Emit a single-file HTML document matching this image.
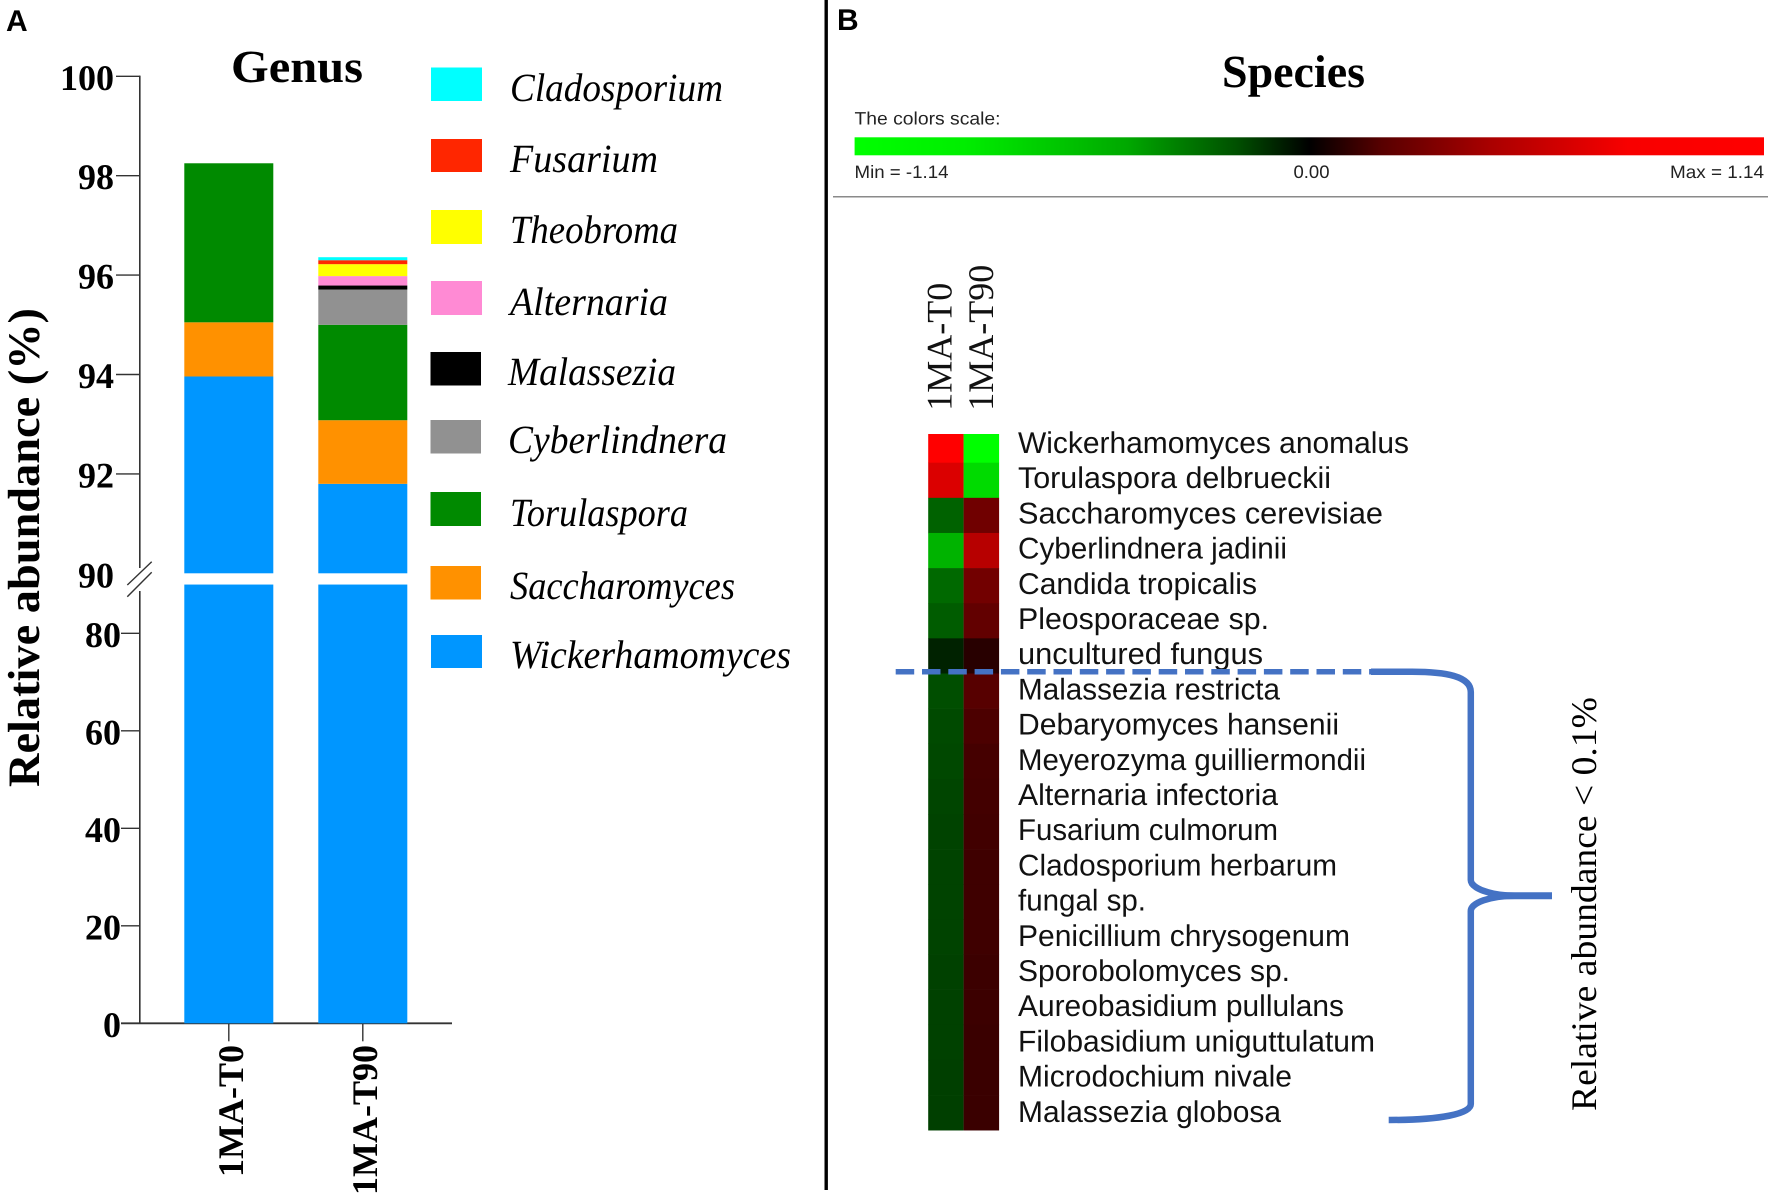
<!DOCTYPE html>
<html lang="en">
<head>
<meta charset="utf-8">
<title>Genus and species relative abundance</title>
<style>
html,body{margin:0;padding:0;background:#fff;}
svg{display:block;text-rendering:geometricPrecision;}
.serif{font-family:"Liberation Serif",serif;}
.sans{font-family:"Liberation Sans",sans-serif;}
.tick-label{font-family:"Liberation Serif",serif;font-weight:bold;font-size:36px;fill:#000;text-anchor:end;}
.legend-label{font-family:"Liberation Serif",serif;font-style:italic;font-size:40px;fill:#000;}
.scale-label{font-family:"Liberation Sans",sans-serif;font-size:18px;fill:#222;}
.species-label{font-family:"Liberation Sans",sans-serif;font-size:30px;fill:#111;}
</style>
</head>
<body>
<svg id="figure" xmlns="http://www.w3.org/2000/svg" width="1772" height="1200" viewBox="0 0 1772 1200">
  <defs>
    <linearGradient id="colorScale" x1="0" x2="1" y1="0" y2="0">
      <stop offset="0" stop-color="#00ff00"/>
      <stop offset="0.12" stop-color="#00ee00"/>
      <stop offset="0.3" stop-color="#00a800"/>
      <stop offset="0.42" stop-color="#005000"/>
      <stop offset="0.5" stop-color="#000000"/>
      <stop offset="0.58" stop-color="#580000"/>
      <stop offset="0.7" stop-color="#aa0000"/>
      <stop offset="0.85" stop-color="#f80000"/>
      <stop offset="1" stop-color="#ff0000"/>
    </linearGradient>
  </defs>
  <rect width="1772" height="1200" fill="#fff"/>

  <text x="6" y="31" class="sans" font-weight="bold" font-size="30">A</text>
  <text x="837" y="30" class="sans" font-weight="bold" font-size="30">B</text>
  <rect x="824.5" y="0" width="3.4" height="1190" fill="#000"/>

  <text x="231" y="82" class="serif" font-weight="bold" font-size="46" textLength="132" lengthAdjust="spacingAndGlyphs">Genus</text>
  <text transform="translate(39,787) rotate(-90)" class="serif" font-weight="bold" font-size="45" textLength="479" lengthAdjust="spacingAndGlyphs">Relative abundance (%)</text>

  <g id="genus-axes"></g>
  <g id="genus-bars"></g>

  <g>
    <g><rect x="431" y="67.5" width="51" height="33.5" fill="#00ffff"/><text x="510" y="101" class="legend-label" textLength="213" lengthAdjust="spacingAndGlyphs">Cladosporium</text></g>
    <g><rect x="431" y="139" width="51" height="33" fill="#ff2600"/><text x="510" y="172" class="legend-label" textLength="148" lengthAdjust="spacingAndGlyphs">Fusarium</text></g>
    <g><rect x="431" y="210" width="51" height="34" fill="#ffff00"/><text x="510" y="243" class="legend-label" textLength="168" lengthAdjust="spacingAndGlyphs">Theobroma</text></g>
    <g><rect x="431" y="281" width="51" height="34" fill="#ff8ad4"/><text x="510" y="315" class="legend-label" textLength="158" lengthAdjust="spacingAndGlyphs">Alternaria</text></g>
    <g><rect x="430.5" y="352" width="50.5" height="33.5" fill="#000"/><text x="508" y="385" class="legend-label" textLength="168" lengthAdjust="spacingAndGlyphs">Malassezia</text></g>
    <g><rect x="430.5" y="420" width="50.5" height="33.5" fill="#919191"/><text x="508" y="453" class="legend-label" textLength="219" lengthAdjust="spacingAndGlyphs">Cyberlindnera</text></g>
    <g><rect x="430.5" y="492" width="50.5" height="34" fill="#008a00"/><text x="510" y="526" class="legend-label" textLength="178" lengthAdjust="spacingAndGlyphs">Torulaspora</text></g>
    <g><rect x="430.5" y="566" width="50.5" height="33.5" fill="#ff9100"/><text x="510" y="599" class="legend-label" textLength="225" lengthAdjust="spacingAndGlyphs">Saccharomyces</text></g>
    <g><rect x="431" y="635" width="51" height="33" fill="#0096ff"/><text x="510" y="668" class="legend-label" textLength="281" lengthAdjust="spacingAndGlyphs">Wickerhamomyces</text></g>
  </g>

  <text x="1222" y="87" class="serif" font-weight="bold" font-size="46" textLength="143" lengthAdjust="spacingAndGlyphs">Species</text>
  <text x="854.5" y="124.5" class="scale-label" textLength="146" lengthAdjust="spacingAndGlyphs">The colors scale:</text>
  <rect x="854.6" y="137.3" width="909.4" height="18" fill="url(#colorScale)"/>
  <text x="854.5" y="178" class="scale-label" textLength="94" lengthAdjust="spacingAndGlyphs">Min = -1.14</text>
  <text x="1293.5" y="178" class="scale-label" textLength="36" lengthAdjust="spacingAndGlyphs">0.00</text>
  <text x="1670" y="178" class="scale-label" textLength="94" lengthAdjust="spacingAndGlyphs">Max = 1.14</text>
  <rect x="833" y="196" width="935" height="1.5" fill="#8a8a8a"/>

  <g id="heatmap"></g>
  <g id="heatmap-labels">
    <text x="1018" y="453" class="species-label" textLength="391" lengthAdjust="spacingAndGlyphs">Wickerhamomyces anomalus</text>
    <text x="1018" y="488" class="species-label" textLength="313" lengthAdjust="spacingAndGlyphs">Torulaspora delbrueckii</text>
    <text x="1018" y="523.4" class="species-label" textLength="365" lengthAdjust="spacingAndGlyphs">Saccharomyces cerevisiae</text>
    <text x="1018" y="558.6" class="species-label" textLength="269" lengthAdjust="spacingAndGlyphs">Cyberlindnera jadinii</text>
    <text x="1018" y="593.8" class="species-label" textLength="239" lengthAdjust="spacingAndGlyphs">Candida tropicalis</text>
    <text x="1018" y="629" class="species-label" textLength="251" lengthAdjust="spacingAndGlyphs">Pleosporaceae sp.</text>
    <text x="1018" y="664.2" class="species-label" textLength="245" lengthAdjust="spacingAndGlyphs">uncultured fungus</text>
    <text x="1018" y="699.4" class="species-label" textLength="262" lengthAdjust="spacingAndGlyphs">Malassezia restricta</text>
    <text x="1018" y="734.6" class="species-label" textLength="321" lengthAdjust="spacingAndGlyphs">Debaryomyces hansenii</text>
    <text x="1018" y="769.8" class="species-label" textLength="348" lengthAdjust="spacingAndGlyphs">Meyerozyma guilliermondii</text>
    <text x="1018" y="805" class="species-label" textLength="260" lengthAdjust="spacingAndGlyphs">Alternaria infectoria</text>
    <text x="1018" y="840.2" class="species-label" textLength="260" lengthAdjust="spacingAndGlyphs">Fusarium culmorum</text>
    <text x="1018" y="875.4" class="species-label" textLength="319" lengthAdjust="spacingAndGlyphs">Cladosporium herbarum</text>
    <text x="1018" y="910.6" class="species-label" textLength="128" lengthAdjust="spacingAndGlyphs">fungal sp.</text>
    <text x="1018" y="945.8" class="species-label" textLength="332" lengthAdjust="spacingAndGlyphs">Penicillium chrysogenum</text>
    <text x="1018" y="981" class="species-label" textLength="272" lengthAdjust="spacingAndGlyphs">Sporobolomyces sp.</text>
    <text x="1018" y="1016.2" class="species-label" textLength="326" lengthAdjust="spacingAndGlyphs">Aureobasidium pullulans</text>
    <text x="1018" y="1051.4" class="species-label" textLength="357" lengthAdjust="spacingAndGlyphs">Filobasidium uniguttulatum</text>
    <text x="1018" y="1086.6" class="species-label" textLength="274" lengthAdjust="spacingAndGlyphs">Microdochium nivale</text>
    <text x="1018" y="1121.8" class="species-label" textLength="263" lengthAdjust="spacingAndGlyphs">Malassezia globosa</text>
  </g>

  <g fill="none" stroke="#4472c4">
    <line x1="895.7" y1="671.7" x2="1371" y2="671.7" stroke-width="5.5" stroke-dasharray="18.5 7.8"/>
    <path d="M1371 671.7 H1412 C1445 671.7 1470.8 676 1470.8 692 V880 C1470.8 888 1490 895.7 1515 895.7 C1490 895.7 1470.8 903 1470.8 911 V1104 C1470.8 1114 1440 1120 1388.7 1120" stroke-width="6.5"/>
    <path d="M1505 895.7 H1552" stroke-width="7"/>
  </g>
  <text transform="translate(1596,1111) rotate(-90)" class="serif" font-size="36" textLength="414" lengthAdjust="spacingAndGlyphs">Relative abundance &lt; 0.1%</text>
</svg>

<script>
// Genus stacked bars
const genusCategories = ['1MA-T0', '1MA-T90'];
const genusSeriesNames = ['Wickerhamomyces', 'Saccharomyces', 'Torulaspora', 'Cyberlindnera', 'Malassezia', 'Alternaria', 'Theobroma', 'Fusarium', 'Cladosporium'];
const genusSeriesColors = ['#0096ff', '#ff9100', '#008a00', '#919191', '#000000', '#ff8ad4', '#ffff00', '#ff2600', '#00ffff'];
const wickerhamomycesValues = [93.96, 91.80];
const saccharomycesValues = [1.09, 1.28];
const torulasporaValues = [3.20, 1.92];
const cyberlindneraValues = [0, 0.71];
const malasseziaValues = [0, 0.08];
const alternariaValues = [0, 0.19];
const theobromaValues = [0, 0.24];
const fusariumValues = [0, 0.08];
const cladosporiumValues = [0, 0.06];
const upperTickLabels = [92, 94, 96, 98, 100];
const breakTickLabel = [90];
const lowerTickLabels = [0, 20, 40, 60, 80];

// Species heatmap (rows run top to bottom in the same order as the species labels)
const heatmapColumns = ['1MA-T0', '1MA-T90'];
const heatmapT0 = [1.14, 0.98, -0.44, -0.80, -0.47, -0.41, -0.15, -0.35, -0.33, -0.32, -0.31, -0.30, -0.30, -0.30, -0.30, -0.29, -0.29, -0.29, -0.28, -0.28];
const heatmapT90 = [-1.14, -0.98, 0.50, 0.82, 0.51, 0.44, 0.18, 0.39, 0.34, 0.31, 0.30, 0.29, 0.28, 0.28, 0.28, 0.27, 0.27, 0.26, 0.26, 0.26];
const heatmapMax = 1.14;

const SVG_NS = 'http://www.w3.org/2000/svg';
function mk(tag, attrs, parent, text) {
  const el = document.createElementNS(SVG_NS, tag);
  for (const k in attrs) el.setAttribute(k, attrs[k]);
  if (text !== undefined) el.textContent = text;
  parent.appendChild(el);
  return el;
}

// Broken y axis: the upper segment covers 90-100, the lower segment covers 0-90
function yScale(v) {
  return v >= 90 ? 573.3 - (v - 90) * 49.7 : 1023.3 - v * 4.875;
}
function yLowerSegmentTop() {
  return 1023.3 - 90 * 4.875;
}
function xScale(i) {
  return 228.8 + i * 134;
}
const BAR_WIDTH = 89;

const axes = document.getElementById('genus-axes');
const bars = document.getElementById('genus-bars');

const axisUpper = mk('line', {x1: 139.8, x2: 139.8, y1: yScale(100) - 0.7, y2: 568, stroke: '#333', 'stroke-width': 1.6}, axes);


const axisLower = mk('line', {x1: 139.8, x2: 139.8, y1: 591, y2: yScale(0), stroke: '#333', 'stroke-width': 1.6}, axes);


const breakMarkA = mk('line', {x1: 127.3, y1: 585, x2: 151.7, y2: 561.7, stroke: '#333', 'stroke-width': 1.4}, axes);


const breakMarkB = mk('line', {x1: 127.3, y1: 596.7, x2: 151.7, y2: 572.3, stroke: '#333', 'stroke-width': 1.4}, axes);


const xAxis = mk('line', {x1: 121, x2: 452, y1: yScale(0), y2: yScale(0), stroke: '#333', 'stroke-width': 1.8}, axes);



upperTickLabels.forEach(function (t) {
  const tick = mk('line', {x1: 116, x2: 140, y1: yScale(t), y2: yScale(t), stroke: '#333', 'stroke-width': 1.4}, axes);
  
  
  const label = mk('text', {x: 114, y: yScale(t) + 13.5, class: 'tick-label'}, axes, String(t));
  
  
});
breakTickLabel.forEach(function (t) {
  const label = mk('text', {x: 114, y: yScale(t) + 14, class: 'tick-label'}, axes, String(t));
  
  
});
lowerTickLabels.forEach(function (t) {
  const tick = mk('line', {x1: 121, x2: 140, y1: yScale(t), y2: yScale(t), stroke: '#333', 'stroke-width': 1.4}, axes);
  
  
  const label = mk('text', {x: 121, y: yScale(t) + 13.5, class: 'tick-label'}, axes, String(t));
  
  
});

const genusSeriesValues = [wickerhamomycesValues, saccharomycesValues, torulasporaValues, cyberlindneraValues, malasseziaValues, alternariaValues, theobromaValues, fusariumValues, cladosporiumValues];
genusCategories.forEach(function (cat, c) {
  const cx = xScale(c);
  let base = 0;
  genusSeriesValues.forEach(function (vals, s) {
    const v = vals[c];
    if (v > 0) {
      const top = base + v;
      if (base < 90 && top > 90) {
        const lower = mk('rect', {x: cx - BAR_WIDTH / 2, width: BAR_WIDTH, y: yLowerSegmentTop(), height: yScale(base) - yLowerSegmentTop(), fill: genusSeriesColors[s]}, bars);
        
        
        const upper = mk('rect', {x: cx - BAR_WIDTH / 2, width: BAR_WIDTH, y: yScale(top), height: yScale(90) - yScale(top), fill: genusSeriesColors[s]}, bars);
        
        
      } else {
        const seg = mk('rect', {x: cx - BAR_WIDTH / 2, width: BAR_WIDTH, y: yScale(top), height: yScale(base) - yScale(top), fill: genusSeriesColors[s]}, bars);
        
        
      }
    }
    base += v;
  });
  const xTick = mk('line', {x1: cx, x2: cx, y1: yScale(0), y2: yScale(0) + 18, stroke: '#333', 'stroke-width': 1.4}, axes);
  
  
  const xLabel = mk('text', {transform: 'translate(' + (cx + 14) + ',1045) rotate(-90)', 'text-anchor': 'end', class: 'serif', 'font-weight': 'bold', 'font-size': 36, fill: '#000'}, axes, cat);
  
  
});

// Heatmap
const heatmap = document.getElementById('heatmap');
const heatmapLabels = document.getElementById('heatmap-labels');
function heatColor(v) {
  const c = Math.round(Math.min(1, Math.abs(v) / heatmapMax) * 255);
  return v >= 0 ? 'rgb(' + c + ',0,0)' : 'rgb(0,' + c + ',0)';
}
function rowTop(i) {
  return Math.max(434, 462.7 + 35.13 * (i - 1));
}
function rowBottom(i) {
  return 462.7 + 35.13 * i;
}
function colLeft(j) {
  return 928.2 + 35.4 * j;
}
[heatmapT0, heatmapT90].forEach(function (vals, j) {
  vals.forEach(function (v, i) {
    const cell = mk('rect', {x: colLeft(j), y: rowTop(i), width: 35.5, height: rowBottom(i) - rowTop(i) + 0.3, fill: heatColor(v)}, heatmap);
    
    
  });
  const colLabel = mk('text', {transform: 'translate(' + (colLeft(j) + 23.2 + j * 6.2) + ',410.7) rotate(-90)', class: 'serif', 'font-size': 36, fill: '#111'}, heatmapLabels, heatmapColumns[j]);
  
  
});
</script>
</body>
</html>
